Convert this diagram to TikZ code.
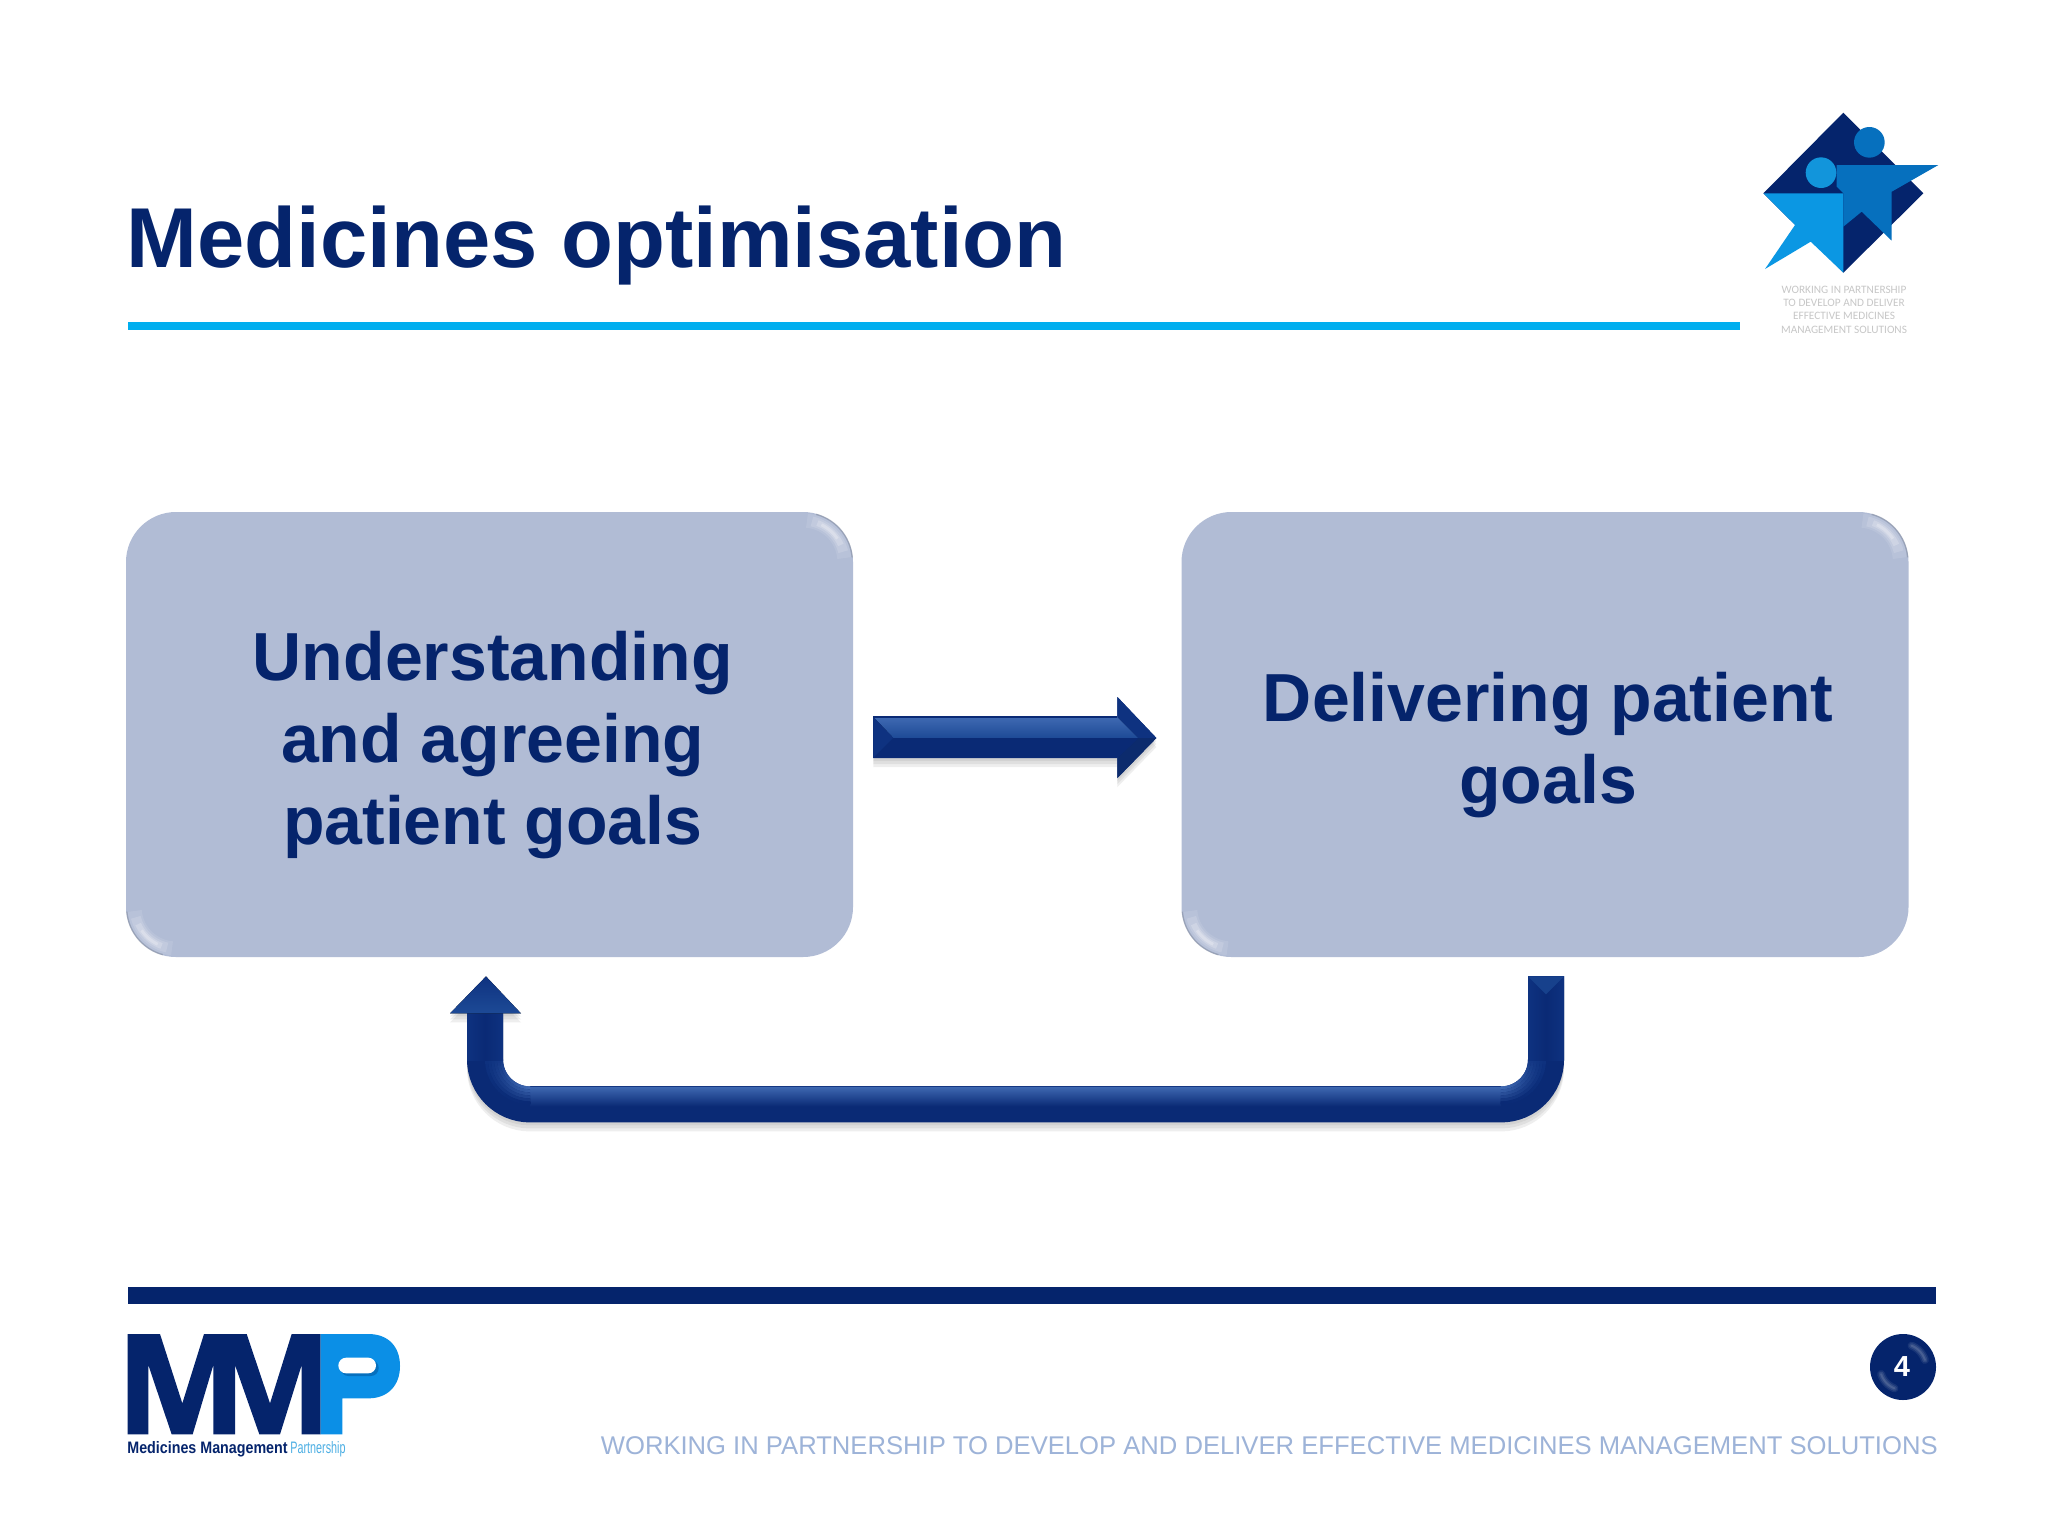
\documentclass[tikz,border=0pt]{standalone}
\usepackage{fontspec}
\setmainfont{Liberation Sans}
\newfontfamily\logofont{Carlito}
\usetikzlibrary{calc}
\definecolor{navy}{HTML}{05246C}
\definecolor{deep}{HTML}{0A2A75}
\definecolor{liteA}{HTML}{3F69B2}
\definecolor{liteB}{HTML}{1D4A96}
\definecolor{facet}{HTML}{0E3280}
\definecolor{boxfill}{HTML}{B1BCD5}
\definecolor{cyanline}{HTML}{00AEEF}
\definecolor{foot}{HTML}{9DB3D8}
\definecolor{starlight}{HTML}{0B97E3}
\definecolor{starmid}{HTML}{0670BE}
\definecolor{starcirc}{HTML}{1295DB}
\definecolor{pblue}{HTML}{0B8FE6}
\newcommand{\lead}{\hspace*{3.2pt}}
\tikzset{
  procbox/.style={fill=boxfill,rounded corners=25pt,minimum width=363.5pt,minimum height=222.5pt,inner sep=0pt,
    text=navy,align=center,font=\fontsize{34}{41}\selectfont\bfseries},
  shade1/.style={gray,opacity=.13},
  logotext/.style={text=black!22,font=\logofont\fontsize{5.65}{6.7}\selectfont,align=center,inner sep=0pt}
}
\newcommand{\boxgloss}[1]{%
  \begin{scope}[shift={($(#1.north east)+(-50,50)$)}]
    \foreach \w/\o/\l/\h in {7/.10/-85/-5,5/.14/-78/-14,3/.2/-70/-24,1.5/.25/-64/-34}{
      \draw[white,opacity=\o,line width=\w pt] plot[domain=\l:\h,samples=16] ({cos(\x)*41},{sin(\x)*41});}
    \draw[black!45!boxfill,opacity=.3,line width=.7pt] plot[domain=-75:-5,samples=16] ({cos(\x)*49},{sin(\x)*49});
  \end{scope}
  \begin{scope}[shift={($(#1.south west)+(50,-50)$)}]
    \foreach \w/\o/\l/\h in {7/.10/95/175,5/.14/102/166,3/.2/110/156,1.5/.25/116/146}{
      \draw[white,opacity=\o,line width=\w pt] plot[domain=\l:\h,samples=16] ({cos(\x)*41},{sin(\x)*41});}
    \draw[black!45!boxfill,opacity=.3,line width=.7pt] plot[domain=105:175,samples=16] ({cos(\x)*49},{sin(\x)*49});
  \end{scope}}
\begin{document}
\begin{tikzpicture}[x=.5pt,y=-.5pt]
\useasboundingbox (0,0) rectangle (2048,1536);
\fill[white] (0,0) rectangle (2048,1536);
% title and rules
\node[anchor=base west,inner sep=0pt,text=navy,font=\fontsize{42.5}{50}\selectfont\bfseries] (title) at (126.5,267) {Medicines optimisation};
\fill[cyanline] (128,322) rectangle (1740,330);
\fill[navy] (128,1287) rectangle (1936,1304);
% boxes
\node[procbox] (a) at (489.5,734.5) {\rule{0pt}{35pt}\lead Understanding\\\lead and agreeing\\\lead patient goals};
\node[procbox] (b) at (1545,734.5) {\rule{0pt}{35pt}\lead Delivering patient\\\lead goals};
\boxgloss{a}\boxgloss{b}
% right arrow
\coordinate (r1) at ($(a.east)+(20,3.5)$);
\coordinate (r2) at ($(b.west)+(-26,3.5)$);
\begin{scope}[shift={(r1)}]
  \foreach \d in {3,6,9}{
    \fill[shade1] (0,{-21+\d}) -- (244,{-21+\d}) -- (244,{-41+\d}) -- (283,\d) -- (244,{40+\d}) -- (244,{20+\d}) -- (0,{20+\d}) -- cycle;}
\end{scope}
\draw[deep,line width=20pt,shorten >=30pt] (r1) -- (r2);
\begin{scope}[shift={(r1)}]
  \fill[deep] (244,-41) -- (283,0) -- (244,40) -- cycle;
  \fill[top color=liteA,bottom color=liteB] (0,-21) -- (244,-21) -- (265,0) -- (20,0) -- cycle;
  \fill[facet] (244,-41) -- (283,0) -- (265,0) -- (244,-21) -- cycle;
  \fill[facet] (0,-21) -- (20,0) -- (0,20) -- cycle;
  \draw[deep,line width=.6pt] (0,-21) -- (244,-21);
  \fill[facet!85!black] (244,20) -- (244,40) -- (283,0) -- (265,0) -- cycle;
  \fill[deep] (20,0) -- (265,0) -- (244,20) -- (0,20) -- cycle;
\end{scope}
% return arrow
\coordinate (u1) at ($(b.south)+(1,19)$);
\coordinate (u2) at ($(a.south)+(-3.5,19)$);
\coordinate (uR) at ($(u1)+(0,128)$);
\coordinate (uL) at ($(u2)+(-1,128)$);
\coordinate (uH) at ($(u2)+(-1,37)$);
\foreach \d in {1.5,3,4.5}{
  \begin{scope}[transform canvas={yshift=-\d pt}]
    \draw[shade1,line width=18pt,rounded corners=22.5pt] (u1) -- (uR) -- (uL) -- (uH);
    \fill[shade1] (u2) -- ($(u2)+(-36,37)$) -- ($(u2)+(35,37)$) -- cycle;
  \end{scope}}
\draw[deep,line width=18pt,rounded corners=22.5pt] (u1) -- (uR) -- (uL) -- (uH);
% straight horizontal faces
\fill[top color=liteA,bottom color=deep] ($(uL)+(45,-18)$) rectangle ($(uR)+(-45,2)$);
\draw[deep!80!liteA,line width=.6pt] ($(uL)+(45,-18)$) -- ($(uR)+(-45,-18)$);
% bends
\foreach \k in {0,...,5}{
  \pgfmathtruncatemacro{\q}{100-\k*20}
  \pgfmathsetmacro{\ra}{27+\k*3}
  \pgfmathsetmacro{\rb}{30+\k*3}
  \foreach \t in {0,5,...,85}{
    \pgfmathtruncatemacro{\p}{100-\t}
    \begin{scope}[shift={($(uL)+(45,-45)$)}]
      \fill[liteA!\q!deep!\p!facet] ({90+\t-1}:\ra) -- ({95+\t}:\ra) -- ({95+\t}:\rb) -- ({90+\t-1}:\rb) -- cycle;
    \end{scope}
    \begin{scope}[shift={($(uR)+(-45,-45)$)}]
      \fill[liteA!\q!deep!\p!facet] ({90-\t+1}:\ra) -- ({85-\t}:\ra) -- ({85-\t}:\rb) -- ({90-\t+1}:\rb) -- cycle;
    \end{scope}}}
% vertical shafts
\fill[left color=facet,right color=deep] ($(u1)+(-18,0)$) rectangle ($(u1)+(0,84)$);
\fill[left color=deep,right color=facet] ($(u1)+(0,0)$) rectangle ($(u1)+(18,84)$);
\fill[left color=facet,right color=deep] ($(uH)+(-18,0)$) rectangle ($(uH)+(0,47)$);
\fill[left color=deep,right color=facet] ($(uH)+(0,0)$) rectangle ($(uH)+(18,47)$);
\fill[liteB!70!deep] ($(u1)+(-18,0)$) -- ($(u1)+(18,0)$) -- ($(u1)+(0,18)$) -- cycle;
\fill[top color=facet,bottom color=liteB] (u2) -- ($(u2)+(35,37)$) -- ($(u2)+(-36,37)$) -- cycle;
% emblem
\begin{scope}[shift={(1720,90)},x=.16667pt,y=-.16667pt]
  \fill[navy] (370,68) -- (610,310) -- (370,548) -- (130,310) -- cycle;
  \fill[starlight] (130,310) -- (370,310) -- (370,548) -- (272,455) -- (135,537) -- (225,405) -- cycle;
  \fill[starmid] (350,225) -- (655,225) -- (515,305) -- (515,452) -- (425,365) -- (370,410) -- (370,310) -- (350,290) -- cycle;
  \fill[starmid] (448,157) circle[radius=46];
  \fill[starcirc] (303,248) circle[radius=46];
\end{scope}
\node[logotext] (tag) at (1844,309.5) {WORKING IN PARTNERSHIP\\TO DEVELOP AND DELIVER\\EFFECTIVE MEDICINES\\MANAGEMENT SOLUTIONS};
% MMP logo
\begin{scope}[shift={(100,1310)},x=.16667pt,y=-.16667pt]
  \fill[navy] (83,72) -- (180,72) -- (247,280) -- (312,72) -- (440,72) -- (510,280) -- (575,72) -- (662,72) -- (662,373) -- (605,373) -- (605,165) -- (540,373) -- (478,373) -- (405,165) -- (405,373) -- (340,373) -- (340,165) -- (278,373) -- (215,373) -- (145,165) -- (145,373) -- (83,373) -- cycle;
  \fill[pblue] (662,72) -- (805,72) .. controls (865,72) and (900,110) .. (900,168) .. controls (900,225) and (865,265) .. (805,265) -- (727,265) -- (727,373) -- (662,373) -- cycle;
  \fill[starmid,rounded corners=3.9pt] (722,150) rectangle (836,198);
  \fill[white,rounded corners=3.9pt] (715,143) rectangle (828,190);
\end{scope}
\node[anchor=base west,inner sep=0pt,text=navy,font=\fontsize{8.3}{10}\selectfont\bfseries] (mm) at (127,1453) {\scalebox{.86}[1]{Medicines Management}};
\node[anchor=base west,inner sep=0pt,text=starcirc!75,font=\fontsize{8.3}{10}\selectfont] (pp) at (290,1453) {\scalebox{.65}[1]{Partnership}};
% page number
\node[circle,fill=navy,minimum size=33pt,inner sep=0pt,text=white,font=\fontsize{14.5}{16}\selectfont\bfseries] (page) at (1903,1367) {\hspace*{-1pt}4};
\begin{scope}[shift={(page.center)}]
  \foreach \w/\o in {4/.08,2.5/.1,1/.12}{
    \draw[white,opacity=\o,line width=\w pt,line cap=round] plot[domain=-68:-18,samples=12] ({cos(\x)*23},{sin(\x)*23});
    \draw[white,opacity=\o,line width=\w pt,line cap=round] plot[domain=112:162,samples=12] ({cos(\x)*23},{sin(\x)*23});}
\end{scope}
% footer
\node[anchor=base east,inner sep=0pt,text=foot,font=\fontsize{12.81}{15}\selectfont] (strap) at (1938,1454) {WORKING IN PARTNERSHIP TO DEVELOP AND DELIVER EFFECTIVE MEDICINES MANAGEMENT SOLUTIONS};
\end{tikzpicture}
\end{document}
